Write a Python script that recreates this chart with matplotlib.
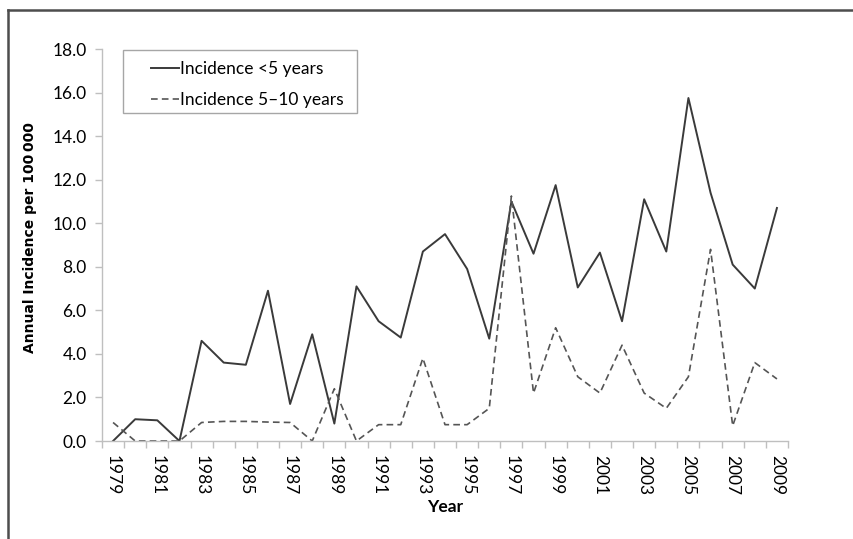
import numpy as np
import matplotlib
matplotlib.use('Agg')
import matplotlib.pyplot as plt
from matplotlib.lines import Line2D
from matplotlib.patches import Rectangle

# Annual incidence per 100 000
years = list(range(1979, 2010))
under5 = [0.0, 1.0, 0.95, 0.0, 4.6, 3.6, 3.5, 6.9, 1.7, 4.9,
          0.8, 7.1, 5.5, 4.75, 8.7, 9.5, 7.9, 4.7, 11.0, 8.6,
          11.75, 7.05, 8.65, 5.5, 11.1, 8.7, 15.75, 11.4, 8.1, 7.0, 10.7]
age5to10 = [0.85, 0.0, 0.0, 0.0, 0.85, 0.9, 0.9, 0.87, 0.85, 0.0,
            2.4, 0.0, 0.75, 0.75, 3.8, 0.75, 0.75, 1.5, 11.25, 2.2,
            5.2, 2.95, 2.2, 4.4, 2.2, 1.5, 2.95, 8.8, 0.7, 3.6, 2.85]
labels = ['Incidence <5 years', 'Incidence 5\u201310 years']

W, H = 854, 539
fig = plt.figure(figsize=(W / 100, H / 100), dpi=100)
ax = fig.add_axes([102 / W, 1 - 441 / H, (788 - 102) / W, (441 - 49) / H])

x = np.arange(len(years))
l1, = ax.plot(x, under5, color='#3a3a3a', lw=1.4, label=labels[0])
l2, = ax.plot(x, age5to10, color='#555555', lw=1.2, linestyle=(0, (4, 2.5)), label=labels[1])

ax.set_xlim(-0.5, len(years) - 0.5)
ax.set_ylim(0, 18)
ax.set_yticks(np.arange(0, 18.1, 2))
ax.set_yticklabels(['%.1f' % v for v in np.arange(0, 18.1, 2)], family='Lato', fontsize=12.5)

# year labels every other year, ticks on category boundaries
ax.set_xticks(x[::2])
ax.set_xticklabels([str(y) for y in years[::2]], rotation=270, family='Lato', fontsize=12.5)
ax.set_xticks(np.arange(-0.5, len(years)), minor=True)
ax.tick_params(axis='x', which='major', length=0, pad=10)
ax.tick_params(axis='x', which='minor', length=5, color='#bfbfbf', width=1)
ax.tick_params(axis='y', length=5, color='#bfbfbf', width=1, pad=6)

for s in ['top', 'right']:
    ax.spines[s].set_visible(False)
for s in ['left', 'bottom']:
    ax.spines[s].set_color('#bfbfbf')
    ax.spines[s].set_linewidth(1)

ax.set_xlabel('Year', family='Lato', fontweight='bold', fontsize=12.5, labelpad=3)
ax.set_ylabel('Annual Incidence per 100\u2009000', family='DejaVu Sans', fontweight='bold', fontsize=10)
ax.yaxis.set_label_coords(-0.095, 0.52)

# legend (box drawn separately, Excel-style padding)
leg = fig.legend(handles=[l1, l2], loc='upper left', bbox_to_anchor=(139 / W, 1 - 49 / H),
                 frameon=False, prop={'family': 'Lato', 'size': 12.5},
                 handlelength=1.6, handletextpad=0.05, labelspacing=0.85, borderpad=0.2)
fig.patches.append(Rectangle((123 / W, 1 - 113 / H), (357 - 123) / W, (113 - 50) / H,
                             transform=fig.transFigure, fill=False, edgecolor='#a6a6a6', lw=1))

# outer frame (top and left edges visible)
fig.add_artist(Line2D([8 / W, 1], [1 - 10 / H, 1 - 10 / H], transform=fig.transFigure, color='#4d4d4d', lw=1.8))
fig.add_artist(Line2D([8 / W, 8 / W], [0, 1 - 10 / H], transform=fig.transFigure, color='#4d4d4d', lw=1.8))

fig.savefig('out.png', dpi=100)
